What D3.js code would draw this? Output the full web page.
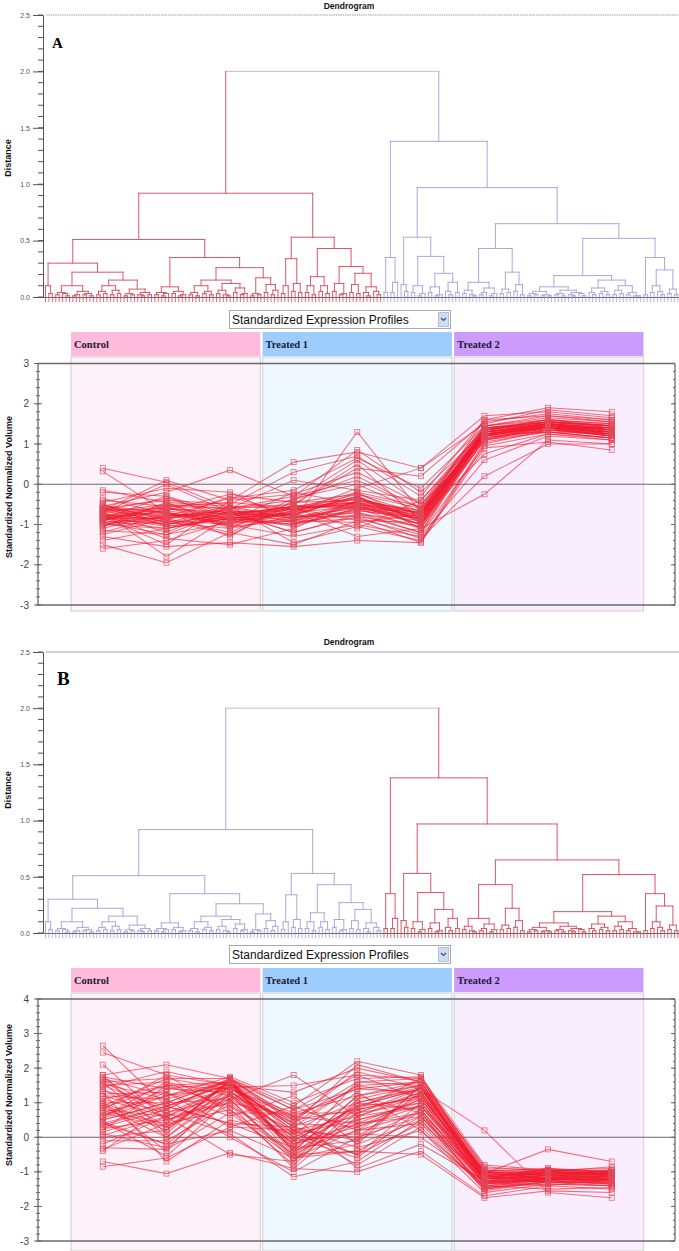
<!DOCTYPE html>
<html><head><meta charset="utf-8">
<script src="https://cdn.jsdelivr.net/npm/d3@7"></script>
<style>body{margin:0;background:#fff} svg{display:block}</style>
</head><body><svg id="c" width="679" height="1251"></svg>
<script>
// ---------------- DATA ----------------
const groups = ["Control", "Treated 1", "Treated 2"];
const samples = ["Control-1","Control-2","Control-3","Treated1-1","Treated1-2","Treated1-3","Treated2-1","Treated2-2","Treated2-3"];
const distanceTicks = [0, 0.5, 1.0, 1.5, 2.0, 2.5];
const profileTicksA = [-3, -2, -1, 0, 1, 2, 3];
const profileTicksB = [-3, -2, -1, 0, 1, 2, 3, 4];
const dropdownLabel = "Standardized Expression Profiles";

// dendrogram: [height, left, right]; 0 = leaf
const redCluster = [0.92,
  [0.51,
    [0.30,
      [0.10, 0, [0.03, 0, 0]],
      [0.22,
        [0.10, [0.04, [0.02,0,0], [0.03,0,[0.01,0,0]]], [0.05, [0.02,[0.01,0,0],0], [0.03,[0.02,0,0],[0.01,0,0]]]],
        [0.15, [0.10, [0.05,[0.02,0,0],[0.03,0,0]], [0.06,[0.02,0,0],[0.03,0,0]]],
               [0.07, [0.03,[0.01,0,0],[0.02,0,0]], [0.04,[0.02,0,[0.01,0,0]],[0.02,0,0]]]]
      ]
    ],
    [0.35,
      [0.09, [0.04,[0.02,0,0],[0.03,[0.01,0,0],0]], [0.05,[0.03,0,0],[0.02,[0.01,0,0],0]]],
      [0.26,
        [0.15, [0.10, [0.04,[0.02,0,0],[0.01,0,0]], [0.05,[0.03,0,0],[0.02,0,0]]],
               [0.12, [0.06,[0.03,0,0],[0.02,0,[0.01,0,0]]], [0.08,[0.04,0,0],[0.03,[0.02,0,0],0]]]],
        [0.17, [0.03,[0.01,0,0],[0.02,0,0]], [0.11,[0.04,0,0],[0.06,[0.02,0,0],0]]]
      ]
    ]
  ],
  [0.53,
    [0.34, [0.10,[0.03,0,0],0], [0.12,[0.05,0,0],[0.04,0,0]]],
    [0.43,
      [0.18, [0.10,[0.04,0,0],[0.02,0,0]], [0.10,[0.05,0,0],[0.03,0,0]]],
      [0.27, [0.12,[0.05,0,0],[0.03,[0.02,0,0],0]],
             [0.21,[0.11,[0.04,0,0],[0.03,0,0]],[0.09,[0.04,0,[0.01,0,0]],[0.05,0,[0.02,0,0]]]]]
    ]
  ]
];
const blueCluster = [1.38,
  [0.35, [0.04,0,0], [0.13,[0.04,0,0],0]],
  [0.97,
    [0.53,
      [0.11, 0, [0.05,0,0]],
      [0.36,
        [0.10, [0.04,0,0], [0.03,[0.01,0,0],0]],
        [0.21, [0.09,[0.04,0,0],[0.02,[0.01,0,0],0]], [0.13,[0.05,0,[0.02,0,0]],[0.04,0,0]]]
      ]
    ],
    [0.65,
      [0.43,
        [0.13, [0.06,[0.03,0,0],[0.02,0,[0.01,0,0]]], [0.08,[0.04,[0.02,0,0],0],[0.03,[0.01,0,0],0]]],
        [0.22, [0.07,[0.03,0,0],[0.04,0,0]], [0.11,[0.05,0,0],[0.02,0,0]]]
      ],
      [0.52,
        [0.19,
          [0.09, [0.05,[0.03,[0.01,0,0],[0.02,0,0]],[0.02,[0.01,0,0],[0.01,0,0]]],
                 [0.06,[0.03,[0.02,0,0],[0.01,0,0]],[0.04,[0.02,0,[0.01,0,0]],[0.03,0,[0.01,0,0]]]]],
          [0.15, [0.08,[0.04,0,[0.02,0,0]],[0.05,[0.03,0,0],[0.02,0,0]]],
                 [0.10,[0.06,[0.02,0,0],[0.03,0,0]],[0.04,[0.02,0,0],[0.01,0,[0.01,0,0]]]]]
        ],
        [0.35, [0.02,0,0], [0.24,[0.10,[0.04,0,0],[0.05,0,[0.02,0,0]]],[0.07,[0.03,0,0],[0.02,0,0]]]]
      ]
    ]
  ]
];
const dendroTree = [2.0, redCluster, blueCluster];

const profilesA = [
  [-0.75,-0.80,-0.70,-0.65,-0.45,-0.85,1.25,1.45,1.30],
  [-0.90,-1.10,-0.85,-0.70,-0.30,-0.95,1.30,1.50,1.35],
  [0.40,0.05,-0.60,-0.40,0.60,-0.50,1.10,1.40,1.20],
  [0.32,-0.70,-0.90,-0.20,-0.50,-0.70,1.35,1.55,1.40],
  [-1.60,-1.40,-0.90,-1.00,-0.60,-1.10,1.20,1.30,1.25],
  [-1.50,-1.95,-1.20,-1.50,-0.90,-1.45,1.00,1.35,1.20],
  [-0.55,-0.20,0.35,-0.30,0.10,-0.60,1.40,1.60,1.45],
  [-0.65,0.10,-0.40,0.55,0.80,0.40,1.50,1.85,1.70],
  [-0.85,-0.60,-0.75,-0.90,1.30,-0.70,1.25,1.45,1.35],
  [-1.00,-0.95,-1.10,-0.80,-0.70,-1.20,1.15,1.40,1.20],
  [-0.40,-0.55,-0.45,-0.60,-0.20,-0.55,1.45,1.70,1.60],
  [-1.30,-1.55,-1.45,-1.55,-1.40,-1.45,0.90,1.05,0.85],
  [-0.70,-1.80,-0.80,-0.55,-0.35,-0.75,1.20,1.45,1.30],
  [-0.80,-0.85,-0.60,-0.50,0.50,-0.90,1.30,1.50,1.40],
  [-1.20,-0.75,-1.00,-1.30,-1.00,-1.30,0.60,1.20,1.10],
  [-0.60,-0.40,-0.50,0.30,0.70,-0.30,1.60,1.90,1.80],
  [-0.95,-1.25,-0.95,-0.90,-0.55,-1.00,1.10,1.35,1.25],
  [-0.50,-0.90,-0.30,-0.80,-0.60,-0.80,1.35,1.55,1.45],
  [-0.20,-0.30,-0.90,-0.60,-1.10,-0.40,1.25,1.30,1.15],
  [-1.10,-0.70,-1.30,-0.40,0.20,-0.60,1.40,1.55,1.35],
  [-0.85,-1.00,-0.70,-1.20,-0.80,-1.35,0.20,1.00,1.00],
  [-0.60,-0.70,-1.00,-0.70,-0.10,0.40,1.70,1.80,1.65],
  [-0.90,-0.50,-0.60,-0.30,0.85,-0.20,1.30,1.45,1.30],
  [-0.75,-1.35,-1.50,-1.10,-0.40,-0.80,1.20,1.40,1.25],
  [-0.45,-0.10,-0.20,-0.90,-0.50,-1.00,1.25,1.50,1.40],
  [-1.25,-0.85,-0.70,-0.60,-0.90,-0.95,1.10,1.30,1.15],
  [-0.65,-0.60,-0.85,-1.00,-0.40,-0.70,1.35,1.60,1.50],
  [-0.80,-1.50,-0.40,-0.25,0.30,-0.50,1.45,1.65,1.55],
  [-0.35,-0.75,-0.95,-0.70,-1.30,-1.10,-0.25,1.10,1.00],
  [-1.05,-0.45,-0.55,-0.85,-0.65,-0.85,1.15,1.35,1.20],
  [-0.70,0.00,-0.70,-1.20,-0.75,-1.20,1.30,1.50,1.35],
  [-0.55,-0.85,-1.20,-0.50,0.40,0.20,1.55,1.75,1.60],
  [-1.40,-1.10,-0.80,-0.95,-0.85,-1.25,0.95,1.25,1.10],
  [-0.90,-0.65,-0.25,-0.45,-0.25,-0.60,1.25,1.40,1.30],
  [-0.60,-0.95,-0.60,0.10,-0.15,-0.40,1.40,1.50,1.40],
  [-0.15,-0.45,-1.05,-0.90,-0.95,-0.75,1.20,1.45,1.25],
  [-0.85,-0.30,-0.75,-0.75,-0.30,-0.90,1.35,1.55,1.45],
  [-0.70,-1.20,-0.55,-1.45,-1.05,-1.40,1.05,1.30,1.15],
  [-1.00,-0.80,-0.35,-0.15,0.65,-0.10,1.45,1.60,1.50],
  [-0.50,-1.05,-0.85,-0.60,-0.45,-0.65,1.30,1.45,1.35],
  [-0.80,-0.55,-1.10,-0.35,0.00,-0.70,1.60,1.70,1.55],
  [-1.15,-1.25,-0.65,-0.80,-0.80,-1.05,1.20,1.40,1.30],
  [-0.65,-0.35,-0.80,-1.05,-0.60,-0.85,0.75,1.25,1.15],
  [-0.95,-0.90,-1.25,-0.55,-0.55,-0.75,1.35,1.50,1.35],
  [-0.70,-0.75,-0.80,-0.60,-0.50,-0.80,1.25,1.40,1.30],
  [-0.85,-0.65,-0.90,-0.75,-0.35,-0.90,1.30,1.45,1.25],
  [-0.60,-0.95,-0.75,-0.55,-0.60,-0.70,1.20,1.50,1.35],
  [-0.95,-0.80,-0.65,-0.85,-0.45,-1.00,1.35,1.45,1.40],
  [-0.80,-1.05,-0.85,-0.70,-0.55,-0.85,1.15,1.35,1.25],
  [-0.55,-0.70,-0.95,-0.65,-0.25,-0.75,1.40,1.55,1.45],
  [-1.05,-0.60,-0.70,-0.90,-0.70,-1.05,1.25,1.40,1.20],
  [-0.75,-0.90,-1.00,-0.45,-0.40,-0.65,1.30,1.50,1.30],
  [-0.90,-0.55,-0.60,-0.80,-0.20,-0.95,1.20,1.45,1.35],
  [-0.65,-1.00,-0.80,-1.00,-0.65,-0.85,1.35,1.60,1.40],
  [-0.85,-0.85,-0.55,-0.60,-0.50,-0.70,1.25,1.35,1.30],
  [-0.70,-0.50,-0.90,-0.75,-0.30,-1.10,1.10,1.45,1.25],
  [-1.00,-1.10,-0.75,-0.55,-0.45,-0.80,1.30,1.50,1.35],
  [-0.60,-0.80,-0.65,-0.95,-0.75,-0.90,1.40,1.45,1.30],
  [-0.80,-0.70,-1.05,-0.65,-0.35,-0.75,1.20,1.55,1.45],
  [-0.75,-1.00,-0.70,-0.85,-0.55,-1.00,1.30,1.40,1.20]
];

const profilesB = [
  [2.65,0.90,0.40,-0.30,0.80,1.20,-1.10,-1.05,-1.00],
  [2.45,1.80,1.50,0.30,1.50,1.60,-1.30,-1.20,-1.15],
  [2.10,0.50,1.10,1.80,0.60,0.90,-1.00,-0.90,-1.10],
  [1.80,2.10,1.70,0.90,2.20,1.80,-1.20,-1.10,-0.95],
  [-0.85,-0.60,0.30,0.20,-0.50,0.40,-1.50,-1.30,-1.30],
  [-0.70,-1.05,-0.45,-0.90,-1.00,-0.40,-1.70,-1.40,-1.50],
  [1.50,1.60,1.20,0.50,1.90,1.40,0.20,-1.60,-1.75],
  [0.30,0.80,1.70,-0.40,0.20,1.20,-1.10,-1.00,-1.05],
  [1.00,-0.40,1.50,-0.60,1.00,0.80,-1.35,-1.25,-1.20],
  [0.60,1.30,0.60,1.20,-0.20,1.50,-1.20,-1.05,-1.10],
  [0.00,0.20,1.60,-0.30,1.60,1.70,-0.90,-0.95,-1.00],
  [1.70,0.70,0.10,-1.15,-0.70,0.50,-1.45,-1.15,-1.25],
  [0.90,1.70,1.40,0.60,0.40,1.10,-1.25,-1.20,-1.30],
  [-0.35,0.40,0.80,-0.80,0.90,1.40,-1.05,-0.35,-0.70],
  [1.30,-0.70,0.50,0.10,1.30,0.20,-1.60,-1.35,-1.40],
  [0.50,1.00,1.65,-0.50,-0.40,0.60,-1.15,-1.00,-1.05],
  [1.60,0.00,1.30,0.40,2.10,1.60,-1.00,-1.10,-1.20],
  [0.20,1.50,0.90,-0.10,0.10,0.00,-1.30,-1.25,-1.10],
  [1.10,0.60,-0.50,-0.70,0.70,1.30,-1.40,-1.30,-1.35],
  [0.70,1.20,1.75,1.00,1.70,1.75,-0.80,-0.95,-0.90],
  [1.40,0.30,1.10,0.20,-0.80,0.30,-1.50,-1.20,-1.25],
  [-0.40,0.90,1.55,-0.40,0.50,1.00,-1.20,-1.15,-1.05],
  [0.80,1.80,0.70,0.70,1.20,0.70,-1.10,-0.95,-1.15],
  [1.75,1.40,1.60,0.30,-0.10,1.50,-1.30,-1.40,-1.20],
  [0.40,-0.20,0.20,-0.60,-0.40,-0.50,-1.75,-1.55,-1.60],
  [1.20,0.70,1.45,1.50,1.80,1.10,-0.95,-1.00,-0.95],
  [0.10,-0.30,1.25,-0.20,0.30,0.90,-1.25,-1.10,-1.15],
  [1.55,1.10,0.00,-1.00,0.00,0.60,-1.45,-1.30,-1.40],
  [0.95,0.20,1.65,0.80,1.40,1.30,-1.00,-1.05,-1.10],
  [-0.20,0.60,1.35,0.00,-0.60,0.80,-1.30,-1.20,-1.20],
  [0.60,1.60,0.80,-0.50,1.00,1.45,-1.15,-1.20,-1.30],
  [1.80,0.10,1.70,0.50,0.80,1.70,-1.05,-0.95,-1.00],
  [0.35,0.90,0.40,0.30,-0.30,0.20,-1.40,-1.50,-1.45],
  [1.45,1.90,1.50,1.30,2.00,1.60,-0.85,-1.00,-0.85],
  [-0.10,-0.10,0.95,-0.90,0.60,1.20,-1.20,-1.10,-1.15],
  [0.75,0.40,1.60,0.10,-0.50,1.00,-1.35,-1.20,-1.25],
  [1.25,1.30,0.30,0.90,0.20,0.40,-1.10,-1.30,-1.20],
  [0.45,-0.55,1.10,-0.70,1.10,1.50,-1.20,-0.90,-1.00],
  [1.00,1.00,1.70,0.40,1.50,1.20,-1.05,-1.15,-1.10],
  [0.15,0.70,1.20,-0.20,0.40,0.70,-1.55,-1.25,-1.35],
  [1.65,0.50,1.00,0.60,-0.90,-0.20,-1.25,-1.30,-1.30],
  [0.55,1.20,1.60,-0.40,1.20,1.60,-1.15,-1.05,-1.05],
  [-0.30,-0.35,0.70,-0.60,-0.20,0.50,-1.45,-1.35,-1.40],
  [0.85,1.50,1.40,0.70,0.70,1.40,-1.00,-1.20,-1.05],
  [0.80,0.60,1.50,0.20,0.60,1.30,-1.20,-1.10,-1.15],
  [1.20,1.10,1.60,-0.10,0.90,1.40,-1.15,-1.05,-1.10],
  [0.40,0.90,1.40,0.40,0.30,1.10,-1.30,-1.15,-1.20],
  [1.00,0.30,1.55,-0.40,1.20,1.50,-1.05,-1.10,-1.05],
  [0.60,1.40,1.30,0.10,0.50,0.90,-1.25,-1.20,-1.25],
  [1.50,0.80,1.65,0.60,1.40,1.60,-1.10,-1.05,-1.00],
  [0.25,0.50,1.20,-0.30,-0.10,0.80,-1.35,-1.25,-1.30],
  [1.70,1.20,1.45,0.00,0.80,1.20,-1.20,-1.15,-1.20],
  [0.90,0.00,1.50,0.30,1.00,1.40,-1.15,-1.00,-1.10],
  [0.50,1.00,1.10,-0.60,0.20,0.70,-1.40,-1.20,-1.25],
  [1.10,1.50,1.60,0.50,1.60,1.50,-1.00,-1.10,-1.00],
  [0.70,0.30,1.35,-0.20,0.70,1.00,-1.25,-1.15,-1.20],
  [1.35,0.90,1.55,0.20,0.00,1.30,-1.10,-1.20,-1.15],
  [0.05,0.60,1.00,-0.50,0.40,0.60,-1.30,-1.25,-1.35],
  [1.60,1.70,1.70,0.80,1.80,1.70,-0.95,-1.05,-1.05],
  [0.45,-0.20,1.25,-0.10,0.90,1.10,-1.20,-1.10,-1.15]
];

// ---------------- DRAWING ----------------
const RED = "#dc5666", BLUE = "#aaa8de", ROOTCOL = "#c4bce0";
const groupFill = {"Control":"#ffbadc","Treated 1":"#9dcdfc","Treated 2":"#cc9cfc"};
const groupBg = {"Control":"#fdf2fa","Treated 1":"#eff8fe","Treated 2":"#f8eefd"};
const SANS = "Liberation Sans, Arial, sans-serif";
const SERIF = "Liberation Serif, Times New Roman, serif";
const svg = d3.select("#c");

function drawDendro(cfg) {
  const g = svg.append("g");
  const y = d3.scaleLinear().domain([0, 2.5]).range([cfg.dBot, cfg.dTop]);
  const axX = 43;
  g.append("text").attr("x", 349).attr("y", cfg.titleY).attr("text-anchor", "middle")
    .attr("font-family", SANS).attr("font-weight", "bold").attr("font-size", 8.5).attr("fill", "#111").text("Dendrogram");
  g.append("line").attr("x1", 46).attr("x2", 679).attr("y1", y(2.5)).attr("y2", y(2.5))
    .attr("stroke", cfg.dotted ? "#9aa0a0" : "#c0c0c8").attr("stroke-width", cfg.dotted ? 1.2 : 1.3)
    .attr("stroke-dasharray", cfg.dotted ? "1.5,0.8" : null);
  const ax = g.append("g").attr("transform", `translate(${axX},0)`)
    .call(d3.axisLeft(y).tickValues(distanceTicks).tickFormat(d3.format(".1f")).tickSize(10).tickPadding(3));
  ax.select(".domain").attr("stroke", "#555");
  ax.selectAll(".tick line").attr("stroke", "#555");
  ax.selectAll("text").attr("font-family", SANS).attr("font-size", 7).attr("fill", "#555");
  g.append("g").selectAll("line").data(d3.range(0, 2.501, 0.1)).join("line")
    .attr("x1", axX - 5).attr("x2", axX).attr("y1", d => y(d)).attr("y2", d => y(d)).attr("stroke", "#555");
  g.append("text").attr("transform", `translate(11,${cfg.distY}) rotate(-90)`).attr("text-anchor", "middle")
    .attr("font-family", SANS).attr("font-weight", "bold").attr("font-size", 9).attr("fill", "#111").text("Distance");
  g.append("text").attr("x", cfg.letterX).attr("y", cfg.letterY).attr("font-family", SERIF)
    .attr("font-weight", "bold").attr("font-size", cfg.letterSize).attr("fill", "#000").text(cfg.letter);

  const root = d3.hierarchy(dendroTree, d => Array.isArray(d) ? d.slice(1) : null);
  const leaves = root.leaves();
  const xs = d3.scalePoint().domain(d3.range(leaves.length)).range([45.5, 678]);
  leaves.forEach((l, i) => { l.x = xs(i); });
  root.eachAfter(n => {
    n.h = Array.isArray(n.data) ? n.data[0] : 0;
    if (n.children) n.x = (n.children[0].x + n.children[n.children.length - 1].x) / 2;
  });
  root.children.forEach((c, i) => c.each(n => { n.col = i === 0 ? cfg.leftCol : cfg.rightCol; }));
  root.col = ROOTCOL;
  const segs = [];
  root.each(n => {
    if (!n.children) return;
    const a = n.children[0], b = n.children[n.children.length - 1];
    segs.push({x1: a.x, x2: b.x, y1: y(n.h), y2: y(n.h), col: n.col});
    n.children.forEach(c => segs.push({x1: c.x, x2: c.x, y1: y(c.h), y2: y(n.h), col: c.col}));
  });
  g.append("g").selectAll("line").data(leaves).join("line")
    .attr("x1", d => d.x).attr("x2", d => d.x).attr("y1", y(0)).attr("y2", y(0) + 5)
    .attr("stroke", d => d.col).attr("stroke-width", 1).attr("opacity", 0.85);
  g.append("line").attr("x1", axX).attr("x2", 679).attr("y1", y(0) + 0.5).attr("y2", y(0) + 0.5)
    .attr("stroke", "#666").attr("stroke-width", 1.2);
  g.append("g").selectAll("line").data(segs).join("line")
    .attr("x1", d => d.x1).attr("x2", d => d.x2).attr("y1", d => d.y1).attr("y2", d => d.y2)
    .attr("stroke", d => d.col).attr("stroke-width", 1).attr("stroke-linecap", "square");
}

function drawProfiles(cfg) {
  const g = svg.append("g");
  const xG = d3.scaleBand().domain(groups).range([71, 643.5]).paddingInner(0.012);
  const xS = d3.scalePoint().domain(samples).range([71, 643.5]).padding(0.5);
  const y = d3.scaleLinear().domain(cfg.domain).range([cfg.plotBot, cfg.plotTop]);
  const L = 38, R = 675;

  const dy = cfg.dropY;
  g.append("rect").attr("x", 229.5).attr("y", dy + 0.5).attr("width", 221).attr("height", 18)
    .attr("fill", "#fff").attr("stroke", "#a8a8a8");
  g.append("rect").attr("x", 438.5).attr("y", dy + 2.5).attr("width", 10).attr("height", 14)
    .attr("fill", "#cfdcf4").attr("stroke", "#aebfe0");
  g.append("path").attr("d", `M${441},${dy + 8} L${443.5},${dy + 10.5} L${446},${dy + 8}`)
    .attr("fill", "none").attr("stroke", "#405080").attr("stroke-width", 1.2);
  g.append("text").attr("x", 232).attr("y", dy + 14).attr("font-family", SANS).attr("font-size", 12)
    .attr("fill", "#111").text(dropdownLabel);

  groups.forEach(gr => {
    g.append("rect").attr("x", xG(gr)).attr("y", cfg.regionTop).attr("width", xG.bandwidth())
      .attr("height", cfg.regionBot - cfg.regionTop).attr("fill", groupBg[gr])
      .attr("stroke", "#d8d8d8").attr("stroke-width", 1.3);
    g.append("rect").attr("x", xG(gr)).attr("y", cfg.headY).attr("width", xG.bandwidth())
      .attr("height", 24).attr("fill", groupFill[gr]);
    g.append("text").attr("x", xG(gr) + 3).attr("y", cfg.headY + 16).attr("font-family", SERIF)
      .attr("font-weight", "bold").attr("font-size", 10.5).attr("fill", "#1c1a38").text(gr);
  });

  const frame = g.append("g").attr("stroke", "#6a6a6a");
  frame.append("line").attr("x1", L).attr("x2", R).attr("y1", y(cfg.domain[1])).attr("y2", y(cfg.domain[1])).attr("stroke-width", 1.3);
  frame.append("line").attr("x1", L).attr("x2", R).attr("y1", y(cfg.domain[0])).attr("y2", y(cfg.domain[0])).attr("stroke-width", 1.3);
  frame.append("line").attr("x1", L).attr("x2", R).attr("y1", y(0)).attr("y2", y(0)).attr("stroke-width", 1.1);
  frame.append("line").attr("x1", L).attr("x2", L).attr("y1", y(cfg.domain[0])).attr("y2", y(cfg.domain[1])).attr("stroke-width", 1.3);
  frame.append("line").attr("x1", R).attr("x2", R).attr("y1", y(cfg.domain[0])).attr("y2", y(cfg.domain[1])).attr("stroke-width", 1.3);
  const minor = d3.range(cfg.domain[0], cfg.domain[1] + 0.001, 0.2);
  const ticks = cfg.ticks;
  frame.append("g").selectAll("line").data(minor).join("line")
    .attr("x1", L - 2).attr("x2", L + 2).attr("y1", d => y(d)).attr("y2", d => y(d));
  frame.append("g").selectAll("line").data(ticks).join("line")
    .attr("x1", L - 4).attr("x2", L + 4).attr("y1", d => y(d)).attr("y2", d => y(d));
  frame.append("g").selectAll("line").data(minor).join("line")
    .attr("x1", R - 2).attr("x2", R).attr("y1", d => y(d)).attr("y2", d => y(d));
  frame.append("g").selectAll("line").data(ticks).join("line")
    .attr("x1", R - 4).attr("x2", R).attr("y1", d => y(d)).attr("y2", d => y(d));
  g.append("g").selectAll("text").data(ticks).join("text")
    .attr("x", 29).attr("y", d => y(d) + 3.5).attr("text-anchor", "end")
    .attr("font-family", SANS).attr("font-size", 10).attr("fill", "#444").text(d => d);
  g.append("text").attr("transform", `translate(12,${cfg.ylabelY}) rotate(-90)`).attr("text-anchor", "middle")
    .attr("font-family", SANS).attr("font-weight", "bold").attr("font-size", 9).attr("fill", "#111")
    .text("Standardized Normalized Volume");

  const line = d3.line().x((d, i) => xS(samples[i])).y(d => y(d));
  g.append("g").selectAll("path").data(cfg.profiles).join("path")
    .attr("d", line).attr("fill", "none").attr("stroke", "#f01c30").attr("stroke-width", 1.05)
    .attr("stroke-opacity", 0.62);
  const pts = [];
  cfg.profiles.forEach(p => p.forEach((v, i) => pts.push({s: samples[i], v})));
  g.append("g").selectAll("rect").data(pts).join("rect")
    .attr("x", d => xS(d.s) - 2.5).attr("y", d => y(d.v) - 2.5).attr("width", 5).attr("height", 5)
    .attr("fill", "none").attr("stroke", "#e04a5a").attr("stroke-width", 0.8).attr("stroke-opacity", 0.8);
}

drawDendro({titleY: 9, dTop: 15, dBot: 297, dotted: true, letter: "A", letterX: 52, letterY: 48, letterSize: 15,
  distY: 158, leftCol: RED, rightCol: BLUE});
drawProfiles({dropY: 310, headY: 332, regionTop: 357, regionBot: 611, plotTop: 363.5, plotBot: 605,
  domain: [-3, 3], ticks: profileTicksA, ylabelY: 487, profiles: profilesA});
drawDendro({titleY: 645, dTop: 652, dBot: 933, dotted: false, letter: "B", letterX: 57, letterY: 685, letterSize: 19,
  distY: 790, leftCol: BLUE, rightCol: RED});
drawProfiles({dropY: 945, headY: 968, regionTop: 993, regionBot: 1251, plotTop: 999, plotBot: 1241,
  domain: [-3, 4], ticks: profileTicksB, ylabelY: 1095, profiles: profilesB});
</script></body></html>
